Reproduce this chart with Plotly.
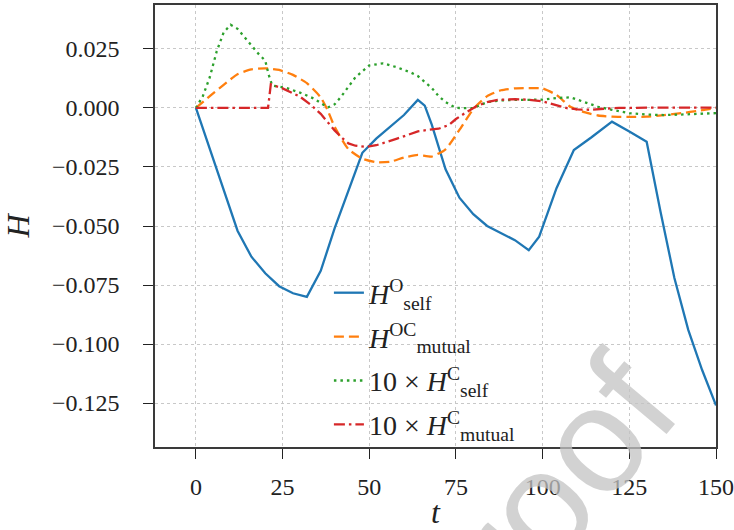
import plotly.graph_objects as go

# ---- data ----
t_self_O = [0, 4, 8, 12, 16, 20, 24, 28, 32, 36, 40, 44, 48, 52, 56, 60, 64, 66, 68, 72, 76, 80,
            84, 88, 92, 96, 99, 104, 109, 114, 120, 125, 130, 134, 138, 142, 146, 150]
H_self_O = [0.0, -0.0175, -0.035, -0.052, -0.063, -0.070, -0.0755, -0.0785, -0.080, -0.069, -0.051,
            -0.035, -0.019, -0.013, -0.008, -0.003, 0.0034, 0.001, -0.007, -0.026, -0.038, -0.045,
            -0.050, -0.053, -0.056, -0.0602, -0.0545, -0.034, -0.0178, -0.0125, -0.0058, -0.010,
            -0.0143, -0.044, -0.072, -0.094, -0.111, -0.126]

t_mutual_OC = [0, 4, 8, 12, 16, 20, 24, 28, 32, 36, 38, 40, 44, 48, 52, 56, 60, 64, 68, 72, 76, 80,
               84, 88, 92, 96, 100, 104, 108, 112, 116, 120, 125, 130, 135, 140, 145, 150]
H_mutual_OC = [0.0, 0.005, 0.0098, 0.0143, 0.0163, 0.0168, 0.0161, 0.0140, 0.0105, 0.0045, -0.001,
               -0.008, -0.0175, -0.0215, -0.023, -0.0228, -0.021, -0.0199, -0.0206, -0.0175, -0.0093,
               -0.0005, 0.0050, 0.0075, 0.0083, 0.0084, 0.0083, 0.0055, 0.0005, -0.0018, -0.0032,
               -0.0037, -0.0038, -0.0037, -0.0030, -0.0022, -0.0012, -0.0001]

t_self_C = [0, 2, 4, 6, 8, 10, 12, 14, 16, 18, 20, 21, 22, 26, 30, 34, 38, 40, 42, 46, 50, 54, 58,
            62, 64, 66, 68, 70, 72, 75, 80, 84, 88, 92, 96, 100, 104, 108, 112, 116, 120, 125, 130,
            135, 140, 145, 150]
H_self_C10 = [0.0, 0.005, 0.013, 0.024, 0.032, 0.0352, 0.0335, 0.030, 0.0265, 0.023, 0.020, 0.014,
              0.0095, 0.0085, 0.0065, 0.0040, 0.0002, 0.0015, 0.005, 0.0130, 0.0180, 0.0189, 0.0172,
              0.0150, 0.0135, 0.011, 0.0085, 0.005, 0.0025, 0.0, -0.0001, 0.0025, 0.0032, 0.0034,
              0.0034, 0.0035, 0.0042, 0.0045, 0.0025, 0.0005, -0.0008, -0.0022, -0.0028, -0.0030,
              -0.0028, -0.0024, -0.0022]

t_mutual_C = [0, 20.8, 21.6, 22, 25, 28, 30, 33, 36, 38, 40, 42, 44, 46, 49, 52, 55, 58, 61, 64, 67,
              70, 73, 75, 78, 81, 84, 87, 92, 96, 100, 104, 107, 110, 114, 118, 122, 130, 140, 150]
H_mutual_C10 = [0.0, 0.0, 0.0100, 0.0098, 0.0083, 0.0062, 0.0048, 0.0015, -0.0025, -0.006, -0.0095,
                -0.0125, -0.015, -0.016, -0.0165, -0.0158, -0.0145, -0.013, -0.0115, -0.0099, -0.0093,
                -0.0088, -0.0072, -0.0047, -0.0018, 0.0008, 0.0025, 0.0034, 0.0037, 0.0035, 0.0028,
                0.0012, -0.0001, -0.0006, -0.0008, -0.0003, 0.0, 0.0001, 0.0, 0.0001]

x_ticks = [0, 25, 50, 75, 100, 125, 150]
y_ticks = [0.025, 0.0, -0.025, -0.05, -0.075, -0.1, -0.125]

names = [
    "<i>H</i><sup>O</sup><sub>self</sub>",
    "<i>H</i><sup>OC</sup><sub>mutual</sub>",
    "10 × <i>H</i><sup>C</sup><sub>self</sub>",
    "10 × <i>H</i><sup>C</sup><sub>mutual</sub>",
]

FONT = "Liberation Serif"

fig = go.Figure()
fig.add_trace(go.Scatter(x=t_self_O, y=H_self_O, mode="lines", name=names[0], legendgroup="a",
                         line=dict(color="#1f77b4", width=2.3)))
fig.add_trace(go.Scatter(x=t_mutual_OC, y=H_mutual_OC, mode="lines", name=names[1], legendgroup="b",
                         line=dict(color="#ff7f0e", width=2.3, dash="10px,5px", shape="spline", smoothing=0.5)))
fig.add_trace(go.Scatter(x=t_self_C, y=H_self_C10, mode="lines", name=names[2], legendgroup="c",
                         line=dict(color="#2ca02c", width=2.3, dash="2.5px,4px")))
fig.add_trace(go.Scatter(x=t_mutual_C, y=H_mutual_C10, mode="lines", name=names[3], legendgroup="d",
                         line=dict(color="#d62728", width=2.3, dash="11px,4px,2.5px,4px")))

axis_common = dict(
    showline=True, linecolor="#3a3a3a", linewidth=1.5, mirror=True,
    ticks="outside", ticklen=10, tickwidth=1.2, tickcolor="#222",
    showgrid=True, gridcolor="#c8c8c8", gridwidth=1, griddash="dot",
    zeroline=False, tickfont=dict(family=FONT, size=24, color="#222"),
    automargin=False,
)

fig.update_xaxes(range=[-11.8, 150], tickvals=x_ticks, ticklabelstandoff=7,
                 title=dict(text="<i>t</i>", font=dict(family=FONT, size=32, color="#222"), standoff=2),
                 **axis_common)
fig.update_yaxes(range=[-0.1436, 0.0436], tickvals=y_ticks, tickformat=".3f", ticklabelstandoff=19,
                 title=dict(text="<i>H</i>", font=dict(family=FONT, size=32, color="#222"), standoff=14),
                 **axis_common)

fig.add_annotation(text="Proof", xref="paper", yref="paper", x=0.668, y=-0.155,
                   xanchor="center", yanchor="middle", textangle=-50, showarrow=False,
                   font=dict(family="Liberation Sans", size=150, color="rgba(195,195,195,0.75)"))

fig.update_layout(
    width=734, height=530,
    margin=dict(l=155, r=18, t=5, b=83),
    paper_bgcolor="white", plot_bgcolor="white",
    font=dict(family=FONT, color="#222"),
    legend=dict(x=0.31, y=0.405, xanchor="left", yanchor="top", bgcolor="rgba(0,0,0,0)",
                font=dict(family=FONT, size=28, color="#222"), tracegroupgap=4.5),
    showlegend=True,
)

fig.write_html("out.html", config={"displayModeBar": False},
               post_script="document.body.style.margin='0';")
